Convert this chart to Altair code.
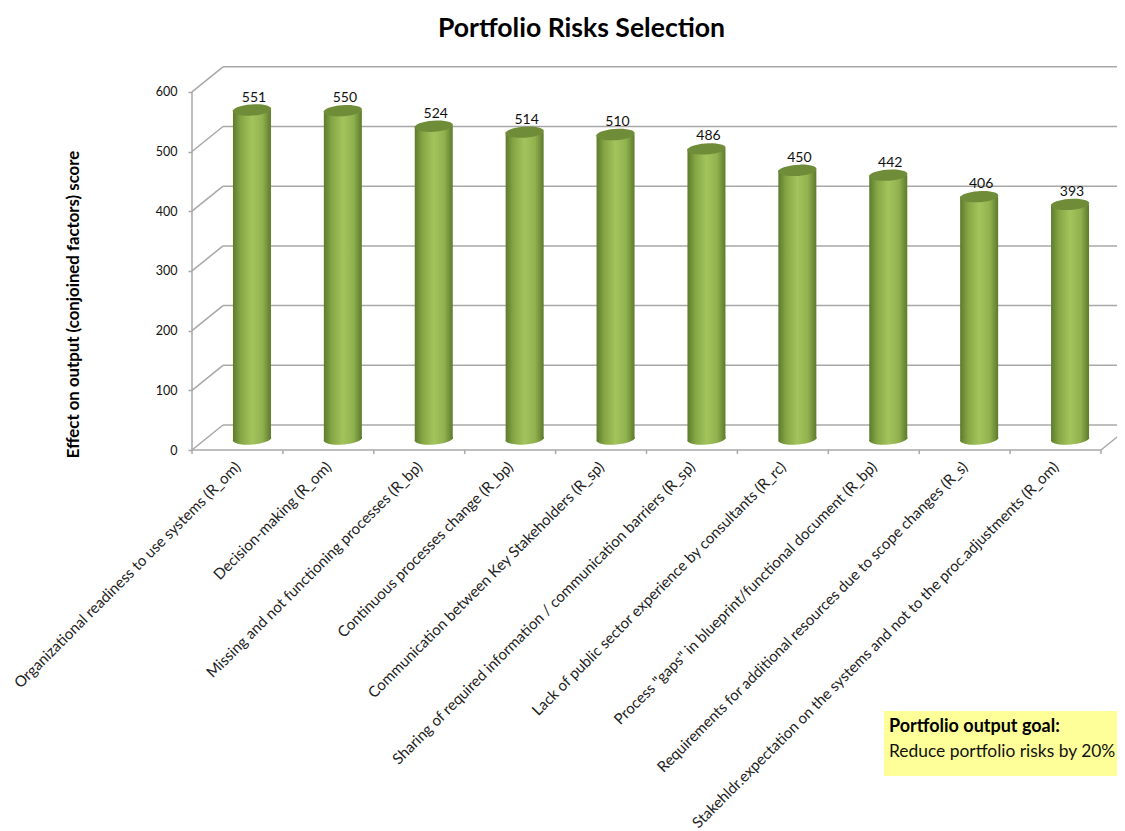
import json
import altair as alt
import pandas as pd

labels = [
    "Organizational readiness to use systems (R_om)",
    "Decision-making (R_om)",
    "Missing and not functioning processes (R_bp)",
    "Continuous processes change (R_bp)",
    "Communication between Key Stakeholders (R_sp)",
    "Sharing of required information / communication barriers (R_sp)",
    "Lack of public sector experience by consultants (R_rc)",
    'Process "gaps" in blueprint/functional document (R_bp)',
    "Requirements for additional resources due to scope changes (R_s)",
    "Stakehldr.expectation on the systems and not to the proc.adjustments (R_om)",
]
values = [551, 550, 524, 514, 510, 486, 450, 442, 406, 393]
y_ticks = [0, 100, 200, 300, 400, 500, 600]

FONT = "Lato"
PLOT_W, PLOT_H = 925, 400
SLOT = 90.9
UNIT = 0.597
X_MAX = PLOT_W / SLOT
Y_MIN = -10 / UNIT
Y_MAX = (PLOT_H - 10) / UNIT
DEPTH_X = 31 / SLOT
DEPTH_Y = 25 / UNIT
CYL_X = 0.5 + 14.5 / SLOT
CYL_Y = 11 / UNIT
CYL_HALF = 19 / SLOT

x_scale = alt.Scale(domain=[0, X_MAX], nice=False, zero=False)
y_scale = alt.Scale(domain=[Y_MIN, Y_MAX], nice=False, zero=False)
grid_color = "#a8a8a8"

expr = "%s[floor(datum.value)]" % json.dumps(labels)
x_axis = alt.Axis(
    values=[i + 0.5 for i in range(10)], labelExpr=expr, ticks=False, domain=False,
    grid=False, title=None, labelAngle=-45, labelAlign="right", labelBaseline="middle",
    labelFont=FONT, labelFontSize=15.1, labelColor="#222222", labelLimit=900,
    labelOverlap=False, labelBound=False, labelFlush=False, labelPadding=4)
y_axis = alt.Axis(
    values=y_ticks, domain=False, grid=False, tickSize=4, tickColor=grid_color, tickWidth=1.5,
    labelFont=FONT, labelFontSize=12.5, labelColor="#111111", labelPadding=11,
    title="Effect on output (conjoined factors) score", titleFont=FONT, titleFontSize=16.8,
    titleFontWeight="bold", titleColor="#000000", titleX=-110, titleY=244)
X = lambda f: alt.X(f, type="quantitative", scale=x_scale, axis=x_axis)
Y = lambda f: alt.Y(f, type="quantitative", scale=y_scale, axis=y_axis)

bars = pd.DataFrame({
    "i": range(10),
    "label": labels,
    "v": values,
})
bars["xc"] = bars.i + CYL_X
bars["x0"] = bars.xc - CYL_HALF
bars["x1"] = bars.xc + CYL_HALF
bars["base"] = CYL_Y
bars["top"] = bars.v + CYL_Y

grid = pd.DataFrame({"v": y_ticks})
grid["x0"] = 0.0
grid["xb"] = DEPTH_X
grid["xe"] = X_MAX
grid["yb"] = grid.v + DEPTH_Y

gradient = alt.LinearGradient(
    gradient="linear", x1=0, x2=1, y1=0, y2=0,
    stops=[
        alt.GradientStop(color="#5c7b2c", offset=0),
        alt.GradientStop(color="#84a544", offset=0.2),
        alt.GradientStop(color="#a3c45c", offset=0.5),
        alt.GradientStop(color="#90b14e", offset=0.78),
        alt.GradientStop(color="#5d7a2c", offset=1),
    ],
)
ELLIPSE = "M-1,0.02A1,0.29,-4,1,1,1,-0.02A1,0.29,-4,1,1,-1,0.02Z"
E_SIZE = 38 ** 2

rule = alt.Chart(grid).mark_rule(color=grid_color, strokeWidth=1.5)
back = rule.encode(x=X("xb"), x2="xe", y=Y("yb"))
diag = rule.encode(x=X("x0"), x2="xb", y=Y("v"), y2="yb")

axis_y = alt.Chart(pd.DataFrame({"x": [0.0], "a": [0], "b": [600]})).mark_rule(
    color=grid_color, strokeWidth=1.5).encode(x=X("x"), y=Y("a"), y2="b")
axis_x = alt.Chart(pd.DataFrame({"a": [0.0], "b": [10.0], "y": [0]})).mark_rule(
    color=grid_color, strokeWidth=1.5).encode(x=X("a"), x2="b", y=Y("y"))
x_ticks = alt.Chart(pd.DataFrame({"x": [float(i) for i in range(11)], "a": [0] * 11, "b": [-4 / UNIT] * 11})).mark_rule(
    color=grid_color, strokeWidth=1.5).encode(x=X("x"), y=Y("a"), y2="b")
right = alt.Chart(pd.DataFrame({"a": [10.0], "b": [10.0 + DEPTH_X], "y": [0], "y2": [DEPTH_Y]})).mark_rule(
    color=grid_color, strokeWidth=1.5).encode(x=X("a"), x2="b", y=Y("y"), y2="y2")

base_e = alt.Chart(bars).mark_point(filled=True, fill=gradient, opacity=1, strokeWidth=0, shape=ELLIPSE, size=E_SIZE).encode(
    x=X("xc"), y=Y("base"))
body = alt.Chart(bars).mark_bar(fill=gradient, opacity=1).encode(x=X("x0"), x2="x1", y=Y("top"), y2="base")
top_e = alt.Chart(bars).mark_point(filled=True, fill="#6f8d38", opacity=1, strokeWidth=0, shape=ELLIPSE, size=E_SIZE).encode(
    x=X("xc"), y=Y("top"))
val = alt.Chart(bars).mark_text(font=FONT, fontSize=14, color="#111111", dx=2, dy=-12.5).encode(
    x=X("xc"), y=Y("top"), text="v:Q")

note_box = alt.Chart(pd.DataFrame({
    "x0": [(884 - 192) / SLOT], "x1": [X_MAX], "y0": [-437.0], "y1": [-546.0]})).mark_rect(
    fill="#ffff99", opacity=1).encode(x=X("x0"), x2="x1", y=Y("y0"), y2="y1")
note_df = pd.DataFrame({
    "x": [(889 - 192) / SLOT] * 2,
    "y": [-464.0, -506.0],
    "t": ["Portfolio output goal:", "Reduce portfolio risks by 20%"],
    "w": ["bold", "normal"],
})
note_a = alt.Chart(note_df[note_df.w == "bold"]).mark_text(
    font=FONT, fontSize=18, fontWeight="bold", align="left", baseline="middle", color="#000000").encode(
    x=X("x"), y=Y("y"), text="t:N")
note_b = alt.Chart(note_df[note_df.w == "normal"]).mark_text(
    font=FONT, fontSize=17.4, align="left", baseline="middle", color="#111111").encode(
    x=X("x"), y=Y("y"), text="t:N")

chart = alt.layer(
    back, diag, axis_y, axis_x, x_ticks, right, base_e, body, top_e, val, note_box, note_a, note_b
).properties(
    width=PLOT_W, height=PLOT_H,
    title=alt.TitleParams("Portfolio Risks Selection", font=FONT, fontSize=26.6, fontWeight="bold",
                          color="#000000", anchor="middle", dx=-73, offset=17),
    autosize=alt.AutoSizeParams(type="none"),
    padding={"left": 184, "top": 52, "right": 0, "bottom": 371},
).configure_view(stroke=None)

chart.save("out.html", embed_options={"renderer": "svg", "actions": False})
